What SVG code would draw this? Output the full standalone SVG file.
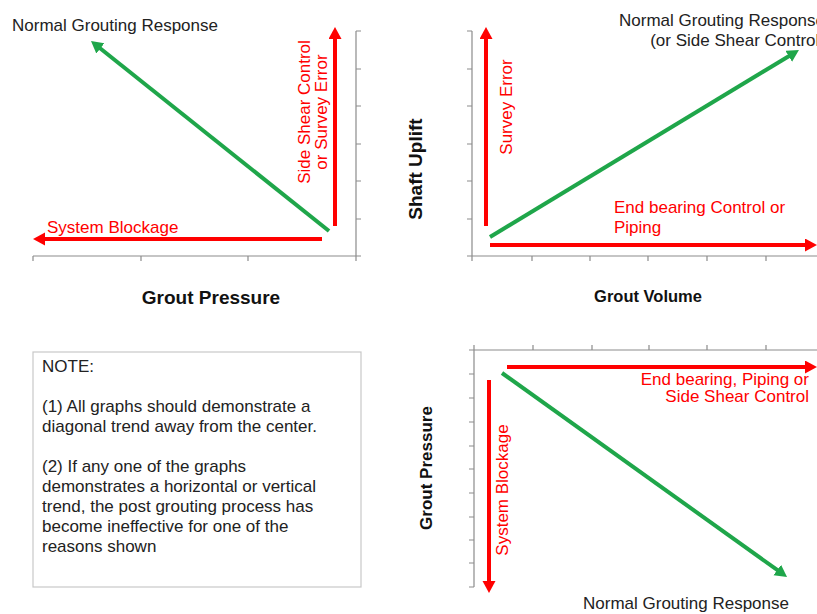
<svg xmlns="http://www.w3.org/2000/svg" width="817" height="614" viewBox="0 0 817 614">
<style>
text{font-family:"Liberation Sans",Arial,sans-serif;}
.t{font-size:17px;fill:#222;}
.r{font-size:17px;fill:#ff0000;}
.b{font-weight:bold;fill:#111;}
.ax{fill:none;stroke:#8c8c8c;stroke-width:1.2;}
.red{stroke:#ff0000;stroke-width:4;fill:none;marker-end:url(#hr);}
.grn{stroke:#1fa64a;stroke-width:4;fill:none;marker-end:url(#hg);}
</style>
<defs>
<marker id="hr" markerUnits="userSpaceOnUse" markerWidth="14" markerHeight="14" refX="2" refY="6.5" orient="auto"><path d="M0,0 L12,6.5 L0,13 z" fill="#ff0000"/></marker>
<marker id="hg" markerUnits="userSpaceOnUse" markerWidth="14" markerHeight="14" refX="2" refY="6.5" orient="auto"><path d="M0,0 L12,6.5 L0,13 z" fill="#1fa64a"/></marker>
</defs>
<rect width="817" height="614" fill="#fff"/>
<g id="axes">
<path class="ax" d="M33,256 H356 V31 M33,256 v5 M141,256 v5 M248,256 v5 M356,256 v5 M356,31 h5 M356,69 h5 M356,106 h5 M356,144 h5 M356,181 h5 M356,219 h5 M356,256 h5"/>
<path class="ax" d="M472,31 V256 H817 M467,31 h5 M467,69 h5 M467,106 h5 M467,144 h5 M467,181 h5 M467,219 h5 M467,256 h5 M472,256 v5 M532,256 v5 M590,256 v5 M648,256 v5 M707,256 v5 M766,256 v5"/>
<path class="ax" d="M474,587 V350 H817 M469,350 h5 M469,374 h5 M469,398 h5 M469,422 h5 M469,446 h5 M469,469 h5 M469,493 h5 M469,517 h5 M469,540 h5 M469,563 h5 M469,587 h5 M474,345 v5 M533,345 v5 M592,345 v5 M649,345 v5 M707,345 v5 M766,345 v5"/>
</g>
<g id="connectors">
<line class="grn" x1="329" y1="231" x2="98.8" y2="47.2"/>
<line class="red" x1="322" y1="239" x2="43" y2="239"/>
<line class="red" x1="335" y1="226" x2="335" y2="37"/>
<line class="red" x1="486" y1="226" x2="486" y2="37"/>
<line class="red" x1="490" y1="245" x2="807" y2="245"/>
<line class="grn" x1="490" y1="237" x2="790.4" y2="55.2"/>
<line class="red" x1="507" y1="367" x2="807" y2="367"/>
<line class="red" x1="489" y1="380" x2="489" y2="583"/>
<line class="grn" x1="502" y1="373" x2="778.9" y2="571.2"/>
</g>
<g id="graph1-labels">
<text class="t" x="12" y="31">Normal Grouting Response</text>
<text class="r" x="47" y="233">System Blockage</text>
<text class="r" text-anchor="middle" transform="translate(310,112) rotate(-90)">Side Shear Control</text>
<text class="r" text-anchor="middle" transform="translate(327,112) rotate(-90)">or Survey Error</text>
<text class="b" x="211" y="304" font-size="19" text-anchor="middle">Grout Pressure</text>
</g>
<g id="graph2-labels">
<text class="t" x="825" y="26" text-anchor="end">Normal Grouting Response</text>
<text class="t" x="825" y="46" text-anchor="end">(or Side Shear Control)</text>
<text class="r" text-anchor="middle" transform="translate(512,107) rotate(-90)">Survey Error</text>
<text class="r" x="614" y="213">End bearing Control or</text>
<text class="r" x="614" y="233">Piping</text>
<text class="b" font-size="19" text-anchor="middle" transform="translate(422,169) rotate(-90)">Shaft Uplift</text>
<text class="b" x="648" y="302" font-size="16.5" text-anchor="middle">Grout Volume</text>
</g>
<g id="note">
<rect x="33" y="352" width="328" height="235" fill="#fff" stroke="#c8c8c8" stroke-width="1.2"/>
<text class="t" x="42" y="372">NOTE:</text>
<text class="t" x="42" y="412">(1) All graphs should demonstrate a</text>
<text class="t" x="42" y="432">diagonal trend away from the center.</text>
<text class="t" x="42" y="472">(2) If any one of the graphs</text>
<text class="t" x="42" y="492">demonstrates a horizontal or vertical</text>
<text class="t" x="42" y="512">trend, the post grouting process has</text>
<text class="t" x="42" y="532">become ineffective for one of the</text>
<text class="t" x="42" y="552">reasons shown</text>
</g>
<g id="graph3-labels">
<text class="r" x="809" y="385" text-anchor="end">End bearing, Piping or</text>
<text class="r" x="809" y="402" text-anchor="end">Side Shear Control</text>
<text class="r" text-anchor="middle" transform="translate(508,490) rotate(-90)">System Blockage</text>
<text class="b" font-size="17" text-anchor="middle" transform="translate(432,468) rotate(-90)">Grout Pressure</text>
<text class="t" x="583" y="609">Normal Grouting Response</text>
</g>
</svg>
